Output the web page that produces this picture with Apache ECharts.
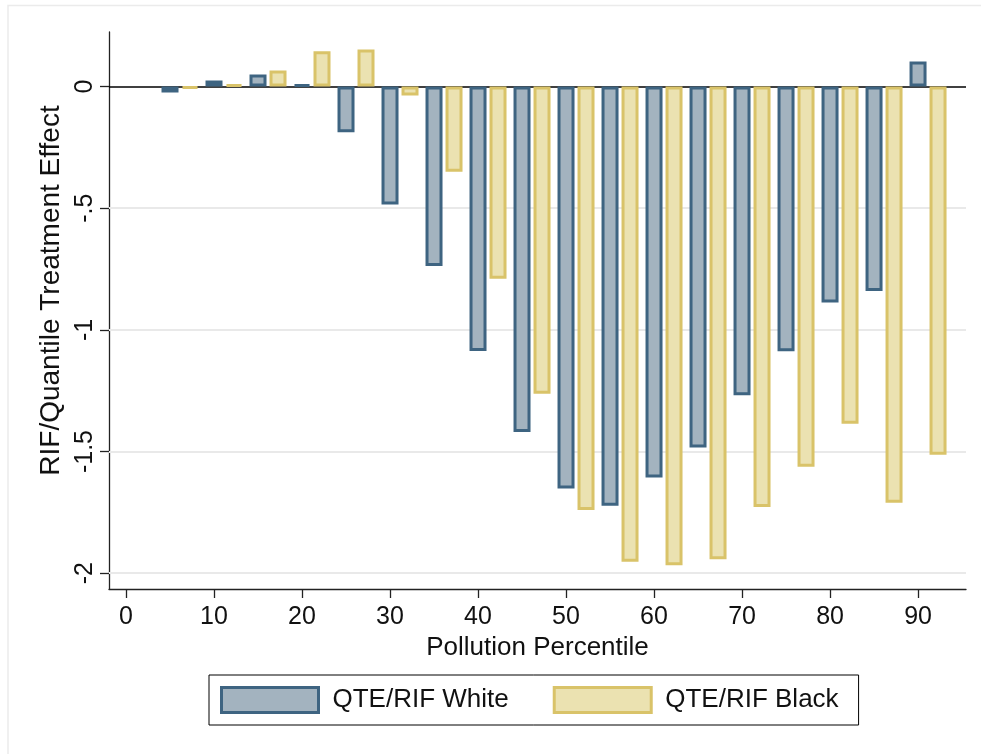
<!DOCTYPE html>
<html><head><meta charset="utf-8">
<script src="https://cdn.jsdelivr.net/npm/echarts@6/dist/echarts.min.js"></script>
<style>html,body{margin:0;padding:0;background:#fff}#c{width:981px;height:754px}</style>
</head><body><div id="c"></div>
<script>
const percentiles = [5,10,15,20,25,30,35,40,45,50,55,60,65,70,75,80,85,90];
const qteWhite = [-0.025,0.025,0.049,0.008,-0.188,-0.485,-0.738,-1.087,-1.42,-1.652,-1.723,-1.607,-1.483,-1.269,-1.088,-0.888,-0.84,0.103];
const qteBlack = [-0.008,0.008,0.066,0.145,0.152,-0.037,-0.35,-0.79,-1.263,-1.74,-1.953,-1.967,-1.943,-1.728,-1.563,-1.386,-1.711,-1.513];
const xTicks = [0,10,20,30,40,50,60,70,80,90];
const yTicks = [0,-0.5,-1,-1.5,-2];
const yTickLabels = ['0','-.5','-1','-1.5','-2'];
const gridLines = [-0.5,-1,-1.5,-2];

const X_MIN = -1.932, X_MAX = 95.45, Y_MIN = -2.065, Y_MAX = 0.224;
const GRID = {left:109, right:15, top:32, bottom:165};
const plotW = 981 - GRID.left - GRID.right;
const unitPx = plotW / (X_MAX - X_MIN);
const pairOffset = 20 / unitPx; // black bar sits one bar-width to the right of the white bar

const FONT = "'Liberation Sans', Arial, Helvetica, sans-serif";
const axisColor = '#222';

const chart = echarts.init(document.getElementById('c'), null, {renderer:'canvas'});
chart.setOption({
  animation:false,
  backgroundColor:'#fff',
  textStyle:{fontFamily:FONT},
  graphic:[{type:'rect', shape:{x:8, y:5.5, width:1000, height:800}, style:{fill:null, stroke:'#ebebeb', lineWidth:1.5}, silent:true, z:-10}],
  grid:{left:GRID.left, right:GRID.right, top:GRID.top, bottom:GRID.bottom, containLabel:false},
  legend:{
    left:209, top:675,
    orient:'horizontal',
    padding:[11,20,11,11],
    itemGap:44,
    itemWidth:97, itemHeight:25,
    borderColor:'#000', borderWidth:1,
    icon:'rect',
    textStyle:{fontSize:26, color:'#111', fontFamily:FONT, padding:[0,0,0,9], lineHeight:26},
    data:[
      {name:'QTE/RIF White', itemStyle:{color:'#a3b3bf', borderColor:'#3e6481', borderWidth:3}},
      {name:'QTE/RIF Black', itemStyle:{color:'#ebe2b1', borderColor:'#d9c369', borderWidth:3}}
    ]
  },
  xAxis:[{
    type:'value', min:X_MIN, max:X_MAX, gridIndex:0,
    axisLine:{show:true, onZero:false, lineStyle:{color:axisColor, width:1.3}},
    axisTick:{show:true, length:9, customValues:xTicks, lineStyle:{color:axisColor, width:1.3}},
    axisLabel:{customValues:xTicks, fontSize:25, color:'#111', margin:16, fontFamily:FONT},
    splitLine:{show:false},
    name:'Pollution Percentile', nameLocation:'middle', nameGap:46,
    nameTextStyle:{fontSize:26, color:'#111', fontFamily:FONT}
  },{
    type:'value', min:X_MIN - pairOffset, max:X_MAX - pairOffset, gridIndex:0, show:false
  }],
  yAxis:{
    type:'value', min:Y_MIN, max:Y_MAX,
    axisLine:{show:true, onZero:false, lineStyle:{color:axisColor, width:1.3}},
    axisTick:{show:true, length:9, customValues:yTicks, lineStyle:{color:axisColor, width:1.3}},
    axisLabel:{customValues:yTicks, rotate:90, fontSize:25, color:'#111', margin:11, fontFamily:FONT,
      formatter:v => yTickLabels[yTicks.indexOf(v)]},
    splitLine:{show:false},
    name:'RIF/Quantile Treatment Effect', nameLocation:'middle', nameGap:43, nameRotate:90,
    nameTextStyle:{fontSize:28, color:'#111', fontFamily:FONT, padding:[0,0,0,40]}
  },
  series:[{
    name:'QTE/RIF White', type:'bar', xAxisIndex:0, barWidth:17, z:3,
    data:percentiles.map((p,i)=>[p, qteWhite[i]]),
    itemStyle:{color:'#a3b3bf', borderColor:'#3e6481', borderWidth:3},
    markLine:{
      silent:true, symbol:['none','none'], label:{show:false}, z:1, animation:false,
      emphasis:{disabled:true},
      data:gridLines.map(v=>({yAxis:v, lineStyle:{color:'#e9e9e9', width:2, type:'solid'}}))
        .concat([{yAxis:0, lineStyle:{color:'#000', width:1.6, type:'solid'}}])
    }
  },{
    name:'QTE/RIF Black', type:'bar', xAxisIndex:1, barWidth:17, z:3,
    data:percentiles.map((p,i)=>[p, qteBlack[i]]),
    itemStyle:{color:'#ebe2b1', borderColor:'#d9c369', borderWidth:3}
  }]
});
</script></body></html>
